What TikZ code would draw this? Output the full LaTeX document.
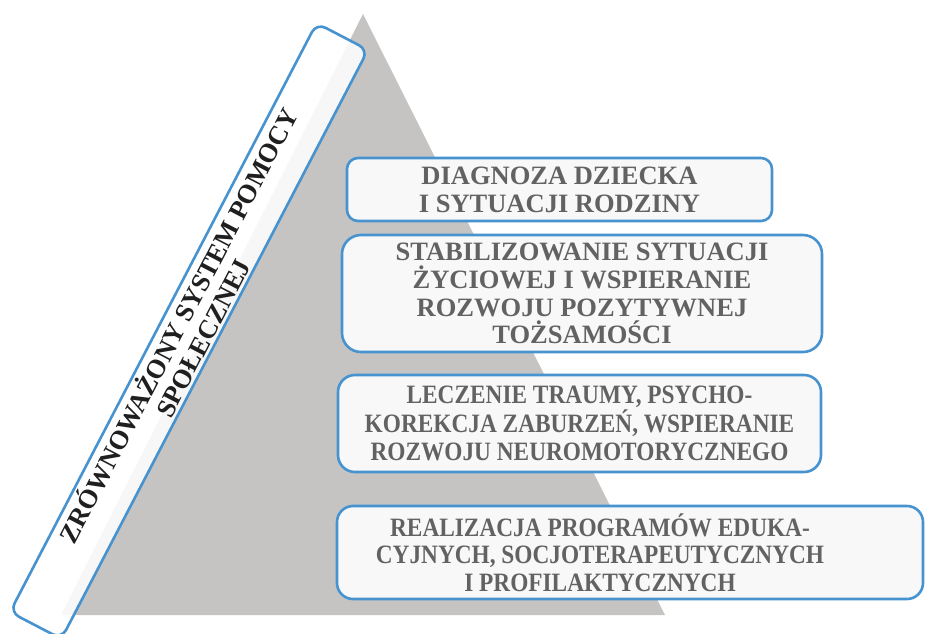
\documentclass[tikz,border=0pt]{standalone}
\usepackage{fontspec}
\setmainfont{Liberation Serif}
\newfontfamily\narrowserif[FakeStretch=0.88]{Liberation Serif}
\definecolor{boxblue}{RGB}{70,147,207}
\definecolor{pyrgray}{RGB}{197,196,195}
\definecolor{labelgray}{RGB}{98,98,98}
\definecolor{boxfill}{RGB}{248,248,248}

\begin{document}
\begin{tikzpicture}
        [
            x                 = 1pt,
            y                 = -1pt,
            stage/.style      = {shape=rectangle, draw=boxblue, line width=2.6pt, fill=boxfill, align=center, inner sep=0pt, text=labelgray},
            stagetext/.style  = {align=center, inner sep=0pt, text=labelgray},
            narrow/.style     = {font=\narrowserif\bfseries\fontsize{26.5}{#1}\selectfont},
            pillar/.style     = {shape=rectangle, draw=boxblue, line width=2.6pt, fill=white, fill opacity=0.88, text opacity=1, rounded corners=10pt, align=center, inner sep=0pt, minimum width=664pt, minimum height=58pt, rotate=62.5, text=black!88},
            every node/.style = {font=\bfseries\fontsize{26.5}{27.7}\selectfont},
            ]
            \useasboundingbox (0,0) rectangle (925,633);
            % pyramid
            \fill [pyrgray] (363,14) -- (61,615) -- (665,615) -- cycle;
            \node [pillar] (system) at (189,331) {ZRÓWNOWAŻONY SYSTEM POMOCY\\SPOŁECZNEJ};
            % levels
            \node [stage, minimum width=425pt, minimum height=63pt, rounded corners=11pt] (diagnosis) at (559.5,189.5) {DIAGNOZA DZIECKA\\I SYTUACJI RODZINY};
            \node [stage, minimum width=480pt, minimum height=117pt, rounded corners=19pt] (stabilizing) at (582,293.5) {STABILIZOWANIE SYTUACJI\\ŻYCIOWEJ I WSPIERANIE\\ROZWOJU POZYTYWNEJ\\TOŻSAMOŚCI};
            \node [stage, narrow=28.5pt, minimum width=483pt, minimum height=97pt, rounded corners=17pt] (therapy) at (579.5,423.5) {LECZENIE TRAUMY, PSYCHO-\\KOREKCJA ZABURZEŃ, WSPIERANIE\\ROZWOJU NEUROMOTORYCZNEGO};
            \node [stage, minimum width=586pt, minimum height=93pt, rounded corners=16pt] (programs) at (630,552.5) {};
            \node [stagetext, narrow=27.5pt] (programstext) at ([xshift=-30pt]programs.center) {REALIZACJA PROGRAMÓW EDUKA-\\CYJNYCH, SOCJOTERAPEUTYCZNYCH\\I PROFILAKTYCZNYCH};
        \end{tikzpicture}
\end{document}
